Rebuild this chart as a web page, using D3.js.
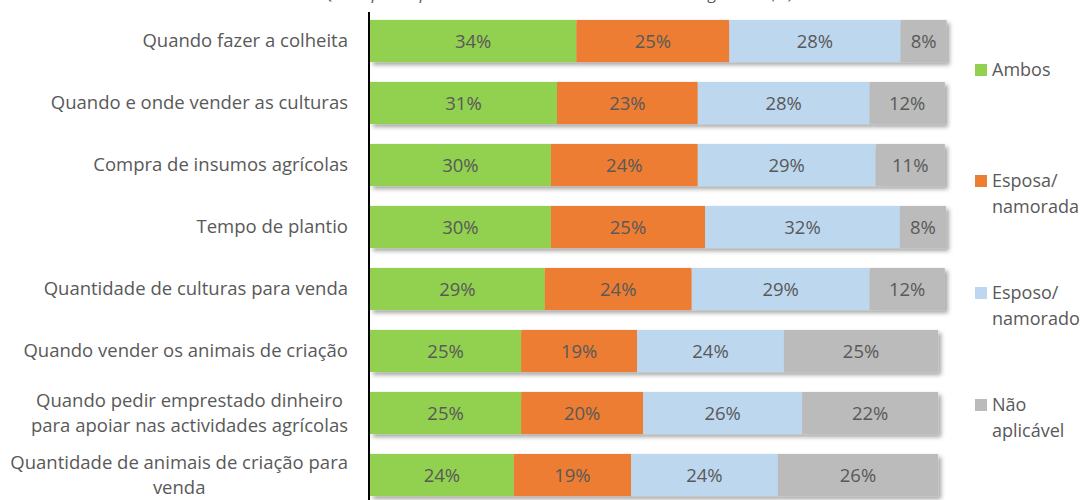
<!DOCTYPE html>
<html>
<head>
<meta charset="utf-8">
<script src="https://cdn.jsdelivr.net/npm/d3@7"></script>
<style>
  body { margin: 0; background: #fff; }
  svg { display: block; font-family: "Open Sans", sans-serif; }
</style>
</head>
<body>
<div id="chart"></div>
<script>
// categories (top to bottom)
var categories = [
  "Quando fazer a colheita",
  "Quando e onde vender as culturas",
  "Compra de insumos agrícolas",
  "Tempo de plantio",
  "Quantidade de culturas para venda",
  "Quando vender os animais de criação",
  "Quando pedir emprestado dinheiro\npara apoiar nas actividades agrícolas",
  "Quantidade de animais de criação para\nvenda"
];

var seriesNames = ["Ambos", "Esposa/\nnamorada", "Esposo/\nnamorado", "Não\naplicável"];
var seriesColors = ["#92d050", "#ed7d31", "#bdd7ee", "#bbbbbb"];

// percentages per series, same order as categories
var ambos    = [34.0, 30.8, 29.8, 29.8, 28.8, 24.9, 24.9, 23.7];
var esposa   = [25.2, 23.2, 24.2, 25.4, 24.2, 19.1, 20.1, 19.3];
var esposo   = [28.2, 28.3, 29.3, 32.1, 29.3, 24.2, 26.2, 24.2];
var naoAplic = [7.6, 12.4, 11.4, 7.6, 12.4, 25.4, 22.4, 26.4];

var title = "Quem participa nas decisões sobre as actividades agrícolas (%)";

var width = 1085, height = 500;
var svg = d3.select("#chart").append("svg")
  .attr("width", width)
  .attr("height", height);

var defs = svg.append("defs");
var shadow = defs.append("filter").attr("id", "shadow")
  .attr("x", "-5%").attr("y", "-20%").attr("width", "110%").attr("height", "160%");
shadow.append("feDropShadow")
  .attr("dx", 3).attr("dy", 3).attr("stdDeviation", 2)
  .attr("flood-color", "#000").attr("flood-opacity", 0.35);

var x = d3.scaleLinear().domain([0, 100]).range([370, 977]);
var y = d3.scaleBand().domain(d3.range(categories.length))
  .range([10, 506]).paddingInner(0.32).paddingOuter(0.16);

var rows = categories.map(function(c, i) {
  var vals = [ambos[i], esposa[i], esposo[i], naoAplic[i]];
  var acc = 0;
  return vals.map(function(v, k) {
    var seg = { row: i, k: k, v: v, x0: acc, x1: acc + v };
    acc += v;
    return seg;
  });
});

// clipped title at the very top (cut off in the original too)
svg.append("text")
  .attr("x", 558).attr("y", -1)
  .attr("text-anchor", "middle")
  .attr("font-style", "italic")
  .attr("font-size", 17)
  .attr("fill", "#595959")
  .text(title);

var rowG = svg.selectAll("g.row").data(rows).enter()
  .append("g").attr("class", "row")
  .attr("filter", "url(#shadow)");

rowG.selectAll("rect").data(function(d) { return d; }).enter()
  .append("rect")
  .attr("x", function(d) { return x(d.x0); })
  .attr("y", function(d) { return y(d.row); })
  .attr("width", function(d) { return x(d.x1) - x(d.x0); })
  .attr("height", y.bandwidth())
  .attr("fill", function(d) { return seriesColors[d.k]; });

var valG = svg.append("g");
rows.forEach(function(r) {
  valG.selectAll(null).data(r).enter()
    .append("text")
    .attr("x", function(d) { return (x(d.x0) + x(d.x1)) / 2; })
    .attr("y", function(d) { return y(d.row) + y.bandwidth() / 2; })
    .attr("dy", "0.36em")
    .attr("text-anchor", "middle")
    .attr("font-size", 18.5)
    .attr("fill", "#595959")
    .text(function(d) { return Math.round(d.v) + "%"; });
});

// category labels (wrapped lines centred in a right-aligned block)
var lineH = 25;
categories.forEach(function(c, i) {
  var lines = c.split("\n");
  var g = svg.append("g");
  var texts = lines.map(function(l, j) {
    return g.append("text")
      .attr("font-size", 18.5)
      .attr("fill", "#595959")
      .attr("text-anchor", "middle")
      .attr("y", y(i) + y.bandwidth() / 2 + (j - (lines.length - 1) / 2) * lineH)
      .attr("dy", "0.35em")
      .text(l);
  });
  var w = d3.max(texts, function(t) { return t.node().getComputedTextLength(); });
  var right = Math.max(348, 8 + w);
  texts.forEach(function(t) { t.attr("x", right - w / 2); });
});

// vertical axis line
svg.append("line")
  .attr("x1", 369).attr("x2", 369)
  .attr("y1", 12).attr("y2", height)
  .attr("stroke", "#000").attr("stroke-width", 2);

// legend
var legendY = [70, 194, 306, 418];
var leg = svg.selectAll("g.legend").data(seriesNames).enter()
  .append("g").attr("class", "legend")
  .attr("transform", function(d, i) { return "translate(975," + legendY[i] + ")"; });
leg.append("rect")
  .attr("x", 0).attr("y", -6)
  .attr("width", 12).attr("height", 12)
  .attr("fill", function(d, i) { return seriesColors[i]; })
  .attr("transform", function(d) { return d.indexOf("\n") >= 0 ? "translate(0,-13)" : null; });
leg.each(function(d) {
  var lines = d.split("\n");
  var g = d3.select(this);
  lines.forEach(function(l, j) {
    g.append("text")
      .attr("x", 17)
      .attr("y", (j - (lines.length - 1) / 2) * 26)
      .attr("dy", "0.35em")
      .attr("font-size", 18)
      .attr("fill", "#595959")
      .text(l);
  });
});
</script>
</body>
</html>
